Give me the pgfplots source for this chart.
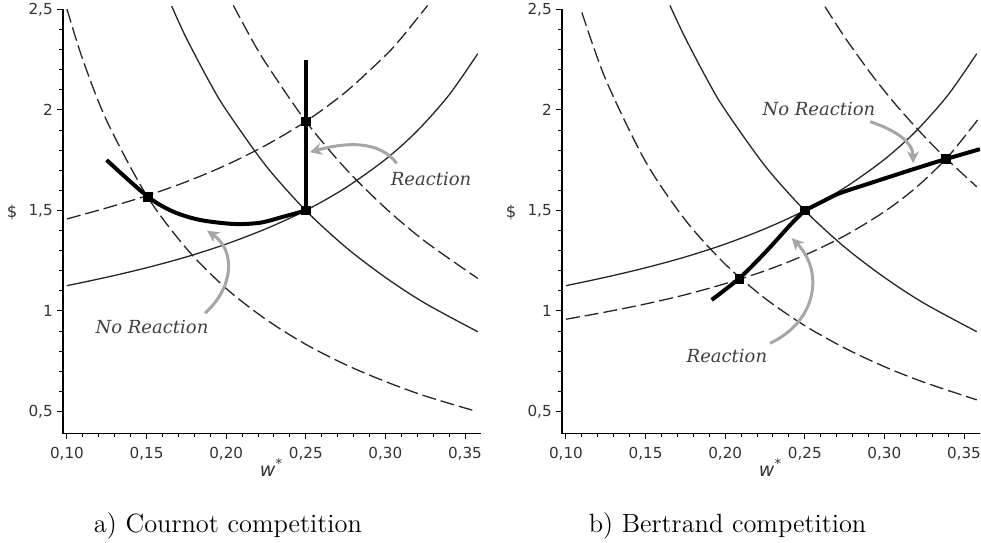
\documentclass[border=0pt]{standalone}
\usepackage{pgfplots}
\pgfplotsset{compat=1.18}
\usetikzlibrary{arrows.meta}
\usepackage{fontspec}
\newfontfamily\dejavu{DejaVu Sans}
\newfontfamily\dejavuserif{DejaVu Serif}

\pgfplotsset{
  panel/.style={
    scale only axis,
    width=208.96pt, height=212.06pt,
    xmin=0.0975, xmax=0.36, ymin=0.39, ymax=2.5,
    axis lines=left, axis line style={-, line width=0.6pt},
    xtick={0.10,0.15,0.20,0.25,0.30,0.35},
    xticklabels={{0,10},{0,15},{0,20},{0,25},{0,30},{0,35}},
    ytick={0.5,1,1.5,2,2.5},
    yticklabels={{0,5},1,{1,5},2,{2,5}},
    minor x tick num=4, minor y tick num=4,
    tick align=outside, major tick length=2.8pt, minor tick length=1.8pt,
    tick style={black, line width=0.5pt},
    ticklabel style={font=\dejavu\fontsize{7.6}{9}\selectfont, text=black!80},
    xticklabel style={yshift=-0.5pt},
    yticklabel style={xshift=1.2pt},
    scaled x ticks=false,
    clip=false,
  },
  thin/.style={black!85, line width=0.65pt, smooth},
  dash/.style={black!85, line width=0.65pt, smooth, dash pattern=on 7pt off 2.5pt},
  thick/.style={black, line width=2pt, smooth},
  sq/.style={only marks, mark=square*, mark size=2.2pt, mark options={black}},
}
\tikzset{
  ann/.style={font=\dejavuserif\itshape\fontsize{9}{10}\selectfont, text=black!75},
  garrow/.style={draw=black!35, line width=1.5pt, -{Stealth[length=6pt,width=6pt]}},
}

\begin{document}
\begin{tikzpicture}
% ---------------- a) Cournot ----------------
\begin{axis}[panel, at={(31.5pt,54.2pt)}, anchor=south west]
% solid increasing
\addplot[thin] coordinates {(0.100,1.126) (0.125,1.168) (0.150,1.215) (0.175,1.269) (0.200,1.333) (0.225,1.409) (0.250,1.500) (0.275,1.613) (0.300,1.754) (0.320,1.896) (0.340,2.075) (0.358,2.280)};
% solid decreasing
\addplot[thin] coordinates {(0.1658,2.516) (0.175,2.357) (0.190,2.132) (0.200,2.000) (0.225,1.722) (0.250,1.500) (0.275,1.318) (0.300,1.167) (0.325,1.038) (0.358,0.897)};
% dashed increasing
\addplot[dash] coordinates {(0.100,1.458) (0.125,1.513) (0.150,1.573) (0.175,1.643) (0.200,1.726) (0.225,1.825) (0.250,1.943) (0.275,2.089) (0.300,2.271) (0.310,2.358) (0.3265,2.520)};
% dashed decreasing (left)
\addplot[dash] coordinates {(0.100,2.502) (0.110,2.249) (0.125,1.946) (0.150,1.575) (0.175,1.311) (0.200,1.112) (0.225,0.958) (0.250,0.834) (0.275,0.733) (0.300,0.649) (0.325,0.577) (0.357,0.501)};
% dashed decreasing (right)
\addplot[dash] coordinates {(0.2045,2.520) (0.215,2.366) (0.225,2.232) (0.250,1.944) (0.275,1.708) (0.300,1.512) (0.325,1.346) (0.358,1.162)};
% thick path
\addplot[thick] coordinates {(0.1249,1.751) (0.1507,1.569) (0.1668,1.494) (0.1835,1.453) (0.2045,1.433) (0.2212,1.439) (0.2359,1.469) (0.250,1.500)};
\addplot[black, line width=2pt] coordinates {(0.25,1.5) (0.25,2.25)};
\addplot[sq] coordinates {(0.1507,1.569) (0.25,1.943) (0.25,1.5)};
% annotations
\node[ann] at (axis cs:0.3287,1.657) {Reaction};
\draw[garrow] (axis cs:0.3071,1.735) .. controls (axis cs:0.296,1.85) and (axis cs:0.275,1.84) .. (axis cs:0.2526,1.79);
\node[ann] at (axis cs:0.1534,0.920) {No Reaction};
\draw[garrow] (axis cs:0.1867,0.989) .. controls (axis cs:0.205,1.12) and (axis cs:0.206,1.30) .. (axis cs:0.188,1.40);
% labels
\node[font=\dejavu\fontsize{8.2}{10}\selectfont, text=black!80] at (axis cs:0.0655,1.488) {\$};
\node[font=\dejavu\itshape\fontsize{9.5}{10}\selectfont, text=black!80] at (axis cs:0.2285,0.222) {w\textsuperscript{*}};
\node[anchor=base] at (axis cs:0.2011,-0.0996) {\fontsize{13.2}{15}\selectfont a) Cournot competition};
\end{axis}
% ---------------- b) Bertrand ----------------
\begin{axis}[panel, at={(281pt,54.2pt)}, anchor=south west]
% solid increasing
\addplot[thin] coordinates {(0.100,1.126) (0.125,1.168) (0.150,1.215) (0.175,1.269) (0.200,1.333) (0.225,1.409) (0.250,1.500) (0.275,1.613) (0.300,1.754) (0.320,1.896) (0.340,2.075) (0.358,2.280)};
% solid decreasing
\addplot[thin] coordinates {(0.1653,2.520) (0.175,2.357) (0.190,2.132) (0.200,2.000) (0.225,1.722) (0.250,1.500) (0.275,1.318) (0.300,1.167) (0.325,1.038) (0.358,0.897)};
% dashed increasing
\addplot[dash] coordinates {(0.100,0.959) (0.125,0.995) (0.150,1.035) (0.175,1.081) (0.200,1.136) (0.225,1.200) (0.250,1.278) (0.275,1.374) (0.300,1.494) (0.320,1.615) (0.340,1.768) (0.360,1.965)};
% dashed decreasing (left)
\addplot[dash] coordinates {(0.110,2.485) (0.125,2.151) (0.150,1.743) (0.175,1.452) (0.200,1.233) (0.225,1.063) (0.250,0.927) (0.275,0.816) (0.300,0.723) (0.325,0.645) (0.358,0.558)};
% dashed decreasing (right)
\addplot[dash] coordinates {(0.2627,2.514) (0.275,2.363) (0.290,2.197) (0.300,2.095) (0.310,2.000) (0.325,1.869) (0.3387,1.759) (0.358,1.618)};
% thick path
\addplot[thick] coordinates {(0.1915,1.055) (0.2089,1.163) (0.225,1.290) (0.2418,1.436) (0.250,1.500)};
\addplot[thick] coordinates {(0.250,1.500) (0.260,1.540) (0.272,1.586) (0.290,1.633) (0.3035,1.668) (0.320,1.710) (0.3387,1.756) (0.360,1.805)};
\addplot[sq] coordinates {(0.2089,1.160) (0.25,1.5) (0.3387,1.756)};
% annotations
\node[ann] at (axis cs:0.2589,2.005) {No Reaction};
\draw[garrow] (axis cs:0.291,1.942) .. controls (axis cs:0.307,1.90) and (axis cs:0.318,1.84) .. (axis cs:0.318,1.735);
\node[ann] at (axis cs:0.2011,0.776) {Reaction};
\draw[garrow] (axis cs:0.2281,0.839) .. controls (axis cs:0.258,0.95) and (axis cs:0.262,1.20) .. (axis cs:0.2418,1.362);
% labels
\node[font=\dejavu\fontsize{8.2}{10}\selectfont, text=black!80] at (axis cs:0.0655,1.488) {\$};
\node[font=\dejavu\itshape\fontsize{9.5}{10}\selectfont, text=black!80] at (axis cs:0.2285,0.222) {w\textsuperscript{*}};
\node[anchor=base] at (axis cs:0.2015,-0.0996) {\fontsize{13.2}{15}\selectfont b) Bertrand competition};
\end{axis}
\pgfresetboundingbox
\useasboundingbox (0,0) rectangle (490.5pt,271pt);
\end{tikzpicture}
\end{document}
